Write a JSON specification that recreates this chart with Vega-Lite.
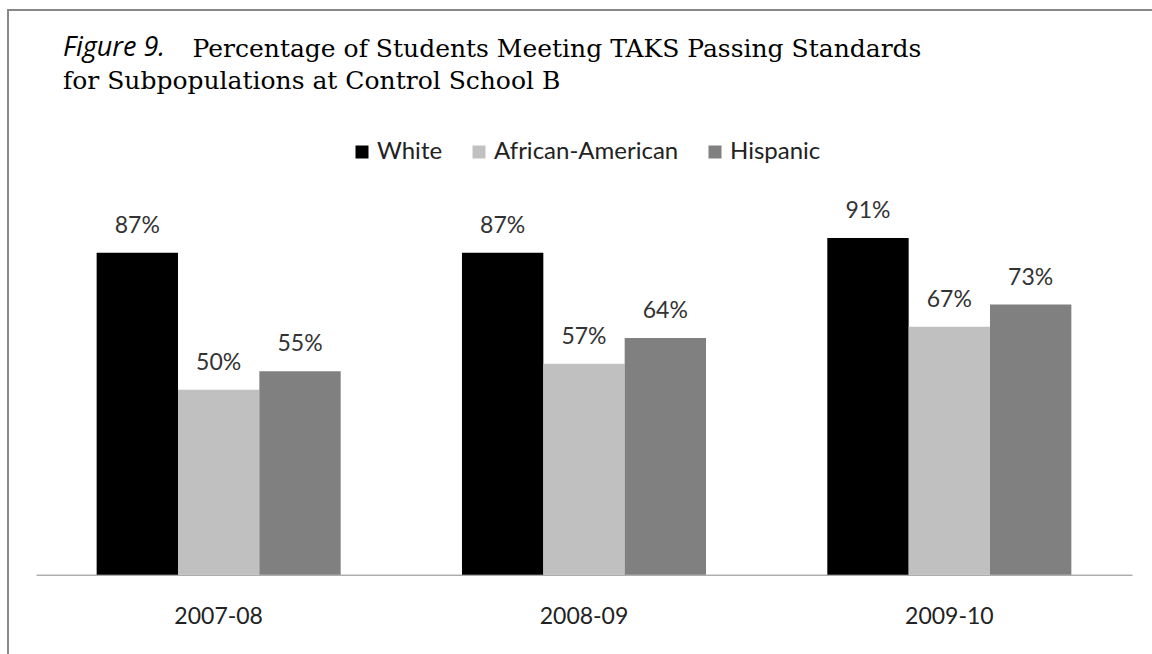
{
  "$schema": "https://vega.github.io/schema/vega-lite/v6.json",
  "autosize": {"type": "none"},
  "width": 1148,
  "height": 648,
  "padding": {"left": 8, "top": 10, "right": -4, "bottom": -4},
  "background": "white",
  "config": {"view": {"stroke": "#888888", "strokeWidth": 2}},
  "title": {
    "text": "Figure 9.",
    "subtitle": ["\u2800\u00a0\u00a0\u00a0\u00a0\u00a0\u00a0\u00a0\u00a0\u00a0\u00a0\u00a0\u00a0\u00a0\u00a0Percentage of Students Meeting TAKS Passing Standards", "for Subpopulations at Control School B"],
    "anchor": "start",
    "frame": "group",
    "dx": 55,
    "offset": -85,
    "font": "Open Sans",
    "fontStyle": "italic",
    "fontWeight": "normal",
    "fontSize": 27,
    "color": "#000000",
    "subtitleFont": "DejaVu Serif",
    "subtitleFontSize": 25,
    "subtitleColor": "#000000",
    "subtitleLineHeight": 32,
    "subtitlePadding": -25.4
  },
  "data": {
    "values": [
      {"year": "2007-08", "group": "White", "value": 0.87},
      {"year": "2007-08", "group": "African-American", "value": 0.50},
      {"year": "2007-08", "group": "Hispanic", "value": 0.55},
      {"year": "2008-09", "group": "White", "value": 0.87},
      {"year": "2008-09", "group": "African-American", "value": 0.57},
      {"year": "2008-09", "group": "Hispanic", "value": 0.64},
      {"year": "2009-10", "group": "White", "value": 0.91},
      {"year": "2009-10", "group": "African-American", "value": 0.67},
      {"year": "2009-10", "group": "Hispanic", "value": 0.73}
    ]
  },
  "encoding": {
    "x": {
      "field": "year",
      "type": "nominal",
      "scale": {"range": [28, 1124], "paddingInner": 0.332, "paddingOuter": 0.166},
      "axis": {
        "title": null,
        "orient": "bottom",
        "offset": -83.3,
        "ticks": false,
        "grid": false,
        "domainColor": "#888888",
        "domainWidth": 1,
        "labelFont": "Lato",
        "labelFontSize": 23,
        "labelColor": "#222222",
        "labelPadding": 31,
        "labelAngle": 0
      }
    },
    "xOffset": {
      "field": "group",
      "type": "nominal",
      "sort": ["White", "African-American", "Hispanic"],
      "scale": {"paddingInner": 0, "paddingOuter": 0}
    },
    "y": {
      "field": "value",
      "type": "quantitative",
      "scale": {"domain": [0, 1], "range": [564.7, 194.7]},
      "axis": null
    }
  },
  "layer": [
    {
      "mark": {"type": "bar"},
      "encoding": {
        "color": {
          "field": "group",
          "type": "nominal",
          "sort": ["White", "African-American", "Hispanic"],
          "scale": {"domain": ["White", "African-American", "Hispanic"], "range": ["#000000", "#c0c0c0", "#808080"]},
          "legend": {
            "orient": "none",
            "legendX": 342,
            "legendY": 130,
            "direction": "horizontal",
            "title": null,
            "symbolType": "square",
            "symbolSize": 169,
            "symbolStrokeWidth": 0,
            "symbolOpacity": 1,
            "labelFont": "Lato",
            "labelFontSize": 24,
            "labelColor": "#222222",
            "labelLimit": 0,
            "labelOffset": 3,
            "columnPadding": 24,
            "padding": 0
          }
        }
      }
    },
    {
      "mark": {"type": "text", "baseline": "alphabetic", "dy": -20, "font": "Lato", "fontSize": 23, "fill": "#333333"},
      "encoding": {"text": {"field": "value", "type": "quantitative", "format": ".0%"}}
    }
  ]
}
